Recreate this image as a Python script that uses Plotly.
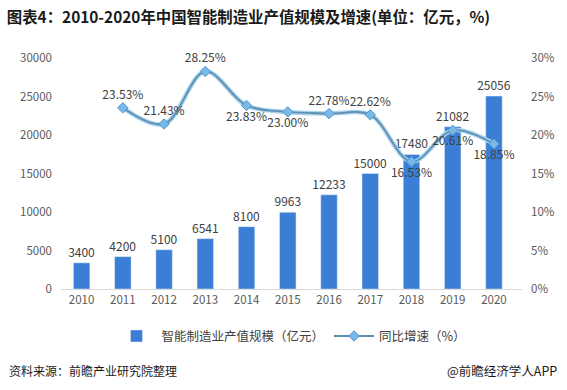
import plotly.graph_objects as go

years = ["2010", "2011", "2012", "2013", "2014", "2015", "2016", "2017", "2018", "2019", "2020"]
scale = [3400, 4200, 5100, 6541, 8100, 9963, 12233, 15000, 17480, 21082, 25056]
growth_years = ["2011", "2012", "2013", "2014", "2015", "2016", "2017", "2018", "2019", "2020"]
growth = [23.53, 21.43, 28.25, 23.83, 23.00, 22.78, 22.62, 16.53, 20.61, 18.85]
growth_pos = ["top center", "top center", "top center", "bottom center", "bottom center",
              "top center", "top center", "bottom center", "bottom center", "bottom center"]

FONT = "Noto Sans CJK SC"
fig = go.Figure()
fig.add_trace(go.Bar(
    x=years, y=scale, name="智能制造业产值规模（亿元）",
    marker=dict(color="#3a7fd5"), width=0.4,
    text=[str(v) for v in scale], textposition="outside", cliponaxis=False,
    constraintext="none",
    textfont=dict(size=12, color="#404040", family=FONT),
))
fig.add_trace(go.Scatter(
    x=growth_years, y=growth, yaxis="y2", mode="lines", showlegend=False,
    line=dict(color="#a8d2f0", width=4.5, shape="spline", smoothing=1.0),
    hoverinfo="skip",
))
fig.add_trace(go.Scatter(
    x=growth_years, y=growth, yaxis="y2", name="同比增速（%）", mode="lines+markers+text",
    line=dict(color="#5d8fae", width=1.8, shape="spline", smoothing=1.0),
    marker=dict(symbol="diamond", size=8, color="#7ab8e6", line=dict(color="#4f95cf", width=1)),
    text=[f"{v:.2f}%" for v in growth], textposition=growth_pos, cliponaxis=False,
    textfont=dict(size=12, color="#404040", family=FONT),
))

fig.update_layout(
    width=567, height=390,
    margin=dict(l=61, r=40, t=58, b=101),
    paper_bgcolor="white", plot_bgcolor="white",
    font=dict(family=FONT, color="#595959"),
    title=dict(text="<b>图表4：2010-2020年中国智能制造业产值规模及增速(单位：亿元，%)</b>",
               x=0.012, xanchor="left", y=0.955, yanchor="middle",
               font=dict(size=15.4, color="#1a1a1a", family=FONT)),
    xaxis=dict(showgrid=False, showline=True, linecolor="#d9d9d9", linewidth=1,
               ticks="", tickfont=dict(size=11.5, color="#595959")),
    yaxis=dict(range=[0, 30000], dtick=5000, tickformat="d", showgrid=False, zeroline=False,
               tickfont=dict(size=11.5, color="#595959"), ticklabelstandoff=8),
    yaxis2=dict(range=[0, 30], dtick=5, overlaying="y", side="right", showgrid=False,
                zeroline=False, ticksuffix="%", tickfont=dict(size=11.5, color="#595959"),
                ticklabelstandoff=8),
    bargap=0.6,
    legend=dict(orientation="h", x=0.5, xanchor="center", y=-0.205, yanchor="middle",
                font=dict(size=12.5, color="#404040", family=FONT), traceorder="normal",
                itemwidth=40),
    showlegend=True,
    annotations=[
        dict(text="资料来源：前瞻产业研究院整理", xref="paper", yref="paper",
             x=-55/466, y=-81/231, xanchor="left", yanchor="middle", showarrow=False,
             font=dict(size=12, color="#1a1a1a", family=FONT)),
        dict(text="@前瞻经济学人APP", xref="paper", yref="paper",
             x=1 + 37/466, y=-81/231, xanchor="right", yanchor="middle", showarrow=False,
             font=dict(size=12.5, color="#1a1a1a", family=FONT)),
    ],
)
fig.write_html("out.html", config={"displayModeBar": False},
               post_script="document.body.style.margin='0';")
